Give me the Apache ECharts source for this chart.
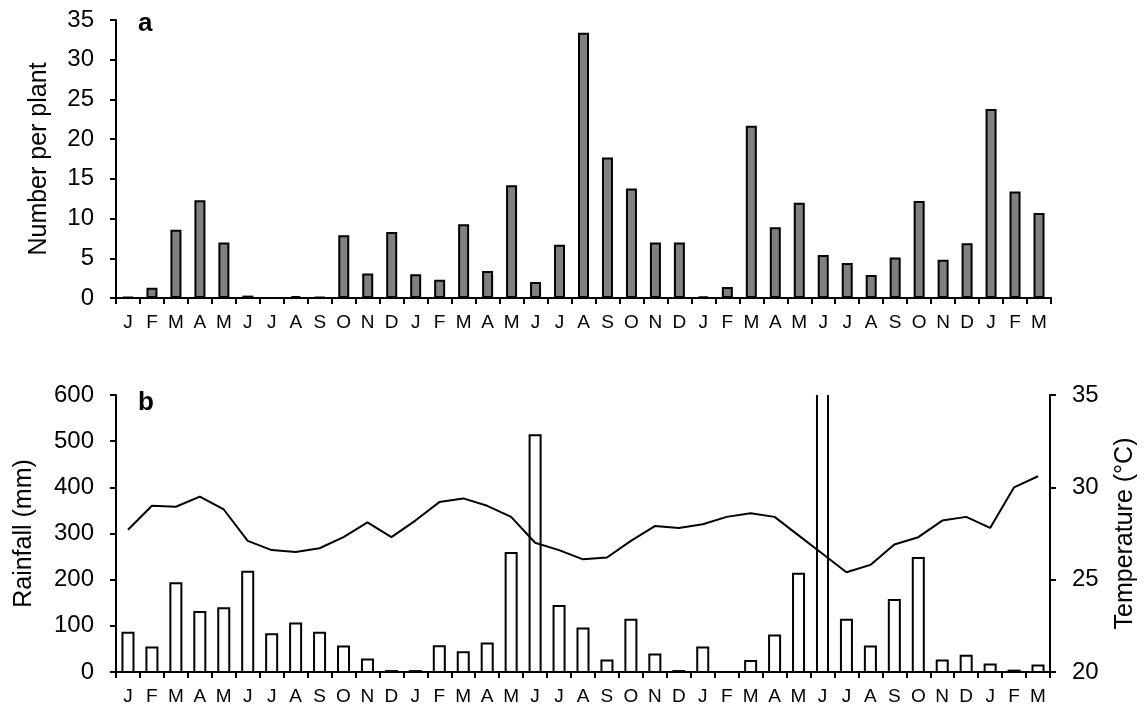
<!DOCTYPE html>
<html><head><meta charset="utf-8">
<script src="https://cdn.jsdelivr.net/npm/echarts@6/dist/echarts.min.js"></script>
<style>html,body{margin:0;padding:0;background:#fff}#c{width:1146px;height:706px}</style>
</head><body><div id="c"></div>
<script>
const months = ['J','F','M','A','M','J','J','A','S','O','N','D','J','F','M','A','M','J','J','A','S','O','N','D','J','F','M','A','M','J','J','A','S','O','N','D','J','F','M'];
const numberPerPlant = [0.1,1.3,8.6,12.3,7.0,0.3,0,0.25,0.1,7.9,3.1,8.3, 3.0,2.3,9.3,3.4,14.2,2.0,6.7,33.4,17.7,13.8,7.0,7.0, 0.2,1.4,21.7,8.9,12.0,5.4,4.4,2.9,5.1,12.2,4.8,6.9, 23.8,13.4,10.7];
const rainfall = [85,53,192,130,138,217,82,105,85,55,27,2, 2,56,43,62,258,513,143,94,25,113,38,2, 53,0,24,79,213,650,113,55,156,247,25,35, 16,3,14];
const temperature = [27.7,29.0,28.95,29.5,28.8,27.1,26.6,26.5,26.7,27.3,28.1,27.3, 28.2,29.2,29.4,29.0,28.4,27.0,26.6,26.1,26.2,27.1,27.9,27.8, 28.0,28.4,28.6,28.4,27.4,26.4,25.4,25.8,26.9,27.3,28.2,28.4, 27.8,30.0,30.6];
const yTicksA = {min:0,max:35,interval:5};
const yTicksRain = {min:0,max:600,interval:100};
const yTicksTemp = {min:20,max:35,interval:5};

const FONT = 'Liberation Sans, Arial, sans-serif';
const axisLine = {show:true, lineStyle:{color:'#000', width:2}};
const axisTick = {show:true, length:6, lineStyle:{color:'#000', width:2}};
function xAx(gi){return {type:'category', gridIndex:gi, data:months, boundaryGap:true,
  axisLine, axisTick:Object.assign({inside:false},axisTick),
  axisLabel:{color:'#000', fontSize:19, fontFamily:FONT, margin:15, interval:0},
  splitLine:{show:false}};}
function yAx(gi, t, name, pos, gap){return {type:'value', gridIndex:gi, min:t.min, max:t.max, interval:t.interval, position:pos,
  name:name, nameLocation:'middle', nameGap:gap, nameRotate:90,
  nameTextStyle:{color:'#000', fontSize:25, fontFamily:FONT},
  axisLine, axisTick,
  axisLabel:{color:'#000', fontSize:24, fontFamily:FONT, margin:22},
  splitLine:{show:false}};}

// rainfall bars drawn through the axes; bars exceeding the axis max are left open at the top
function rainBar(params, api){
  const i = api.value(0), v = api.value(1);
  if (!(v > 0)) return null;
  const cs = params.coordSys;
  const base = api.coord([i, 0]);
  const top = api.coord([i, v]);
  const w = api.size([1, 0])[0] * 0.46;
  const x0 = base[0] - w/2, x1 = base[0] + w/2;
  let yTop = top[1];
  const clipped = yTop < cs.y;
  if (clipped) yTop = cs.y;
  const pts = [[x0, yTop],[x0, base[1]],[x1, base[1]],[x1, yTop]];
  return {type:'group', children:[
    {type:'rect', shape:{x:x0, y:yTop, width:w, height:base[1]-yTop}, style:{fill:'#fff'}},
    {type: clipped ? 'polyline' : 'polygon', shape:{points:pts}, style:{fill:null, stroke:'#000', lineWidth:2}}
  ]};
}

const chart = echarts.init(document.getElementById('c'), null, {renderer:'canvas'});
chart.setOption({
  animation:false,
  backgroundColor:'#fff',
  textStyle:{fontFamily:FONT},
  grid:[{left:116, top:20, width:935, height:278},
        {left:116, top:395, width:935, height:278}],
  title:[{text:'a', left:133, top:6, textStyle:{fontSize:26, fontWeight:'bold', color:'#000', fontFamily:FONT}},
         {text:'b', left:133, top:385, textStyle:{fontSize:26, fontWeight:'bold', color:'#000', fontFamily:FONT}}],
  xAxis:[xAx(0), xAx(1)],
  yAxis:[yAx(0, yTicksA, 'Number per plant', 'left', 64),
         yAx(1, yTicksRain, 'Rainfall (mm)', 'left', 79),
         yAx(1, yTicksTemp, 'Temperature (°C)', 'right', 63)],
  series:[
    {type:'bar', xAxisIndex:0, yAxisIndex:0, data:numberPerPlant, barWidth:11,
     itemStyle:{color:'#808080', borderColor:'#000', borderWidth:2}},
    {type:'custom', xAxisIndex:1, yAxisIndex:1, renderItem:rainBar,
     data:rainfall.map((v,i)=>[i,v]), encode:{x:0, y:1}, clip:false, z:2},
    {type:'line', xAxisIndex:1, yAxisIndex:2, data:temperature, symbol:'none',
     lineStyle:{color:'#000', width:2}, z:5}
  ]
});
</script></body></html>
